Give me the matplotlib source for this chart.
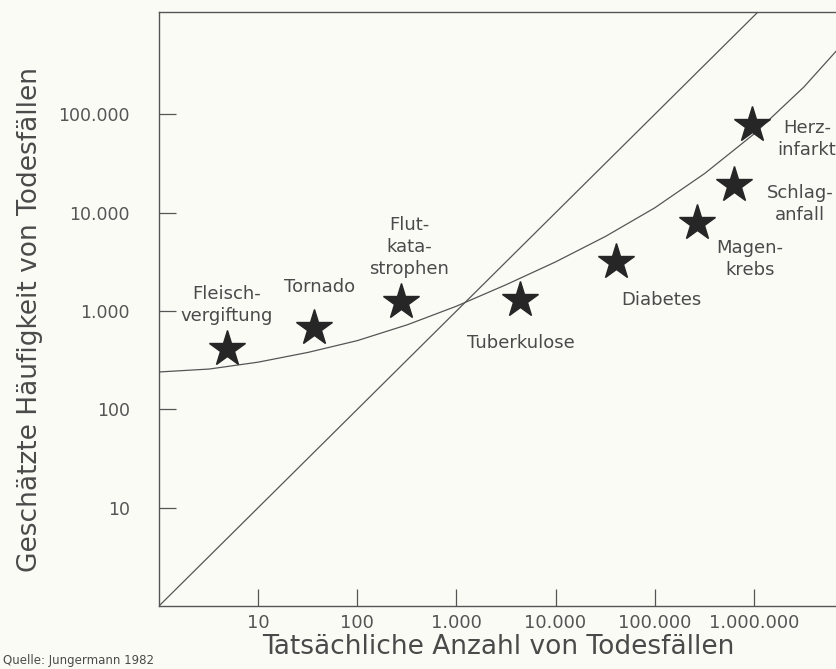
import matplotlib
matplotlib.use("Agg")
import matplotlib.pyplot as plt

# ---- data ----
causes = ["Fleisch-\nvergiftung", "Tornado", "Flut-\nkata-\nstrophen", "Tuberkulose",
          "Diabetes", "Magen-\nkrebs", "Schlag-\nanfall", "Herz-\ninfarkt"]
actual_deaths = [4.9, 37, 278, 4400, 41000, 266000, 630000, 955000]
estimated_deaths = [410, 670, 1240, 1300, 3160, 7900, 19200, 78000]

# fitted curve
curve_actual = [1, 3.2, 10, 32, 100, 320, 1000, 3200, 10000, 32000, 100000,
                320000, 1000000, 3200000, 7000000]
curve_estimated = [240, 257, 302, 380, 500, 725, 1120, 1860, 3160, 5750, 11200,
                   25100, 63000, 190000, 457000]

# identity line (estimate = actual)
identity_line = [1, 1e7]

x_ticks = [10, 100, 1000, 10000, 100000, 1000000]
x_tick_labels = ["10", "100", "1.000", "10.000", "100.000", "1.000.000"]
y_ticks = [10, 100, 1000, 10000, 100000]
y_tick_labels = ["10", "100", "1.000", "10.000", "100.000"]

# label offsets in points (dx, dy) relative to each star
label_offsets = [(-0.7, 31.7), (3.6, 29.5), (5.8, 39.6), (0.7, -31), (32.4, -27.4),
                 (38.2, -25.9), (47.5, -13.7), (39.6, -10.0)]

# ---- styling ----
BG = "#fbfbf6"
INK = "#262626"
TXT = "#4a4a4a"
TICKTXT = "#555555"
LINE = "#555555"
plt.rcParams['font.family'] = ['DejaVu Sans']

fig = plt.figure(figsize=(8.37, 6.69), dpi=100, facecolor=BG)
ax = fig.add_axes([159 / 837, 63 / 669, 1 - 159 / 837, (606 - 12) / 669])
ax.set_facecolor(BG)
ax.set_xscale("log")
ax.set_yscale("log")
ax.set_xlim(1, 6.9e6)
ax.set_ylim(1, 1.1e6)

ax.plot(identity_line, identity_line, color=LINE, lw=0.9)
ax.plot(curve_actual, curve_estimated, color=LINE, lw=0.9)
ax.plot(actual_deaths, estimated_deaths, linestyle="none", marker="*",
        markersize=27, color=INK, markeredgecolor=INK)

for name, x, y, (dx, dy) in zip(causes, actual_deaths, estimated_deaths, label_offsets):
    ax.annotate(name, (x, y), xytext=(dx, dy), textcoords="offset points",
                ha="center", va="center", fontsize=13, color=TXT,
                linespacing=1.3, annotation_clip=False)

ax.set_xticks(x_ticks)
ax.set_xticklabels(x_tick_labels)
ax.set_yticks(y_ticks)
ax.set_yticklabels(y_tick_labels)
ax.minorticks_off()
ax.tick_params(axis="both", which="major", direction="in", length=12, width=0.9,
               color=LINE, labelcolor=TICKTXT)
ax.tick_params(axis="x", pad=6, labelsize=13)
ax.tick_params(axis="y", pad=21, labelsize=12.5)

for side in ["left", "bottom", "top"]:
    ax.spines[side].set_color(LINE)
    ax.spines[side].set_linewidth(1.0)
ax.spines["right"].set_visible(False)

ax.set_xlabel("Tatsächliche Anzahl von Todesfällen", fontsize=19, color=TXT, labelpad=1)
ax.set_ylabel("Geschätzte Häufigkeit von Todesfällen", fontsize=19, color=TXT)
ax.yaxis.label.set_va("center")
ax.yaxis.set_label_coords((30 - 159) / 678, (606 - 319) / 594)

fig.text(3 / 837, (669 - 664) / 669, "Quelle: Jungermann 1982", ha="left", va="baseline",
         fontsize=8.5, color=TXT)

fig.savefig("out.png", dpi=100, facecolor=BG)
